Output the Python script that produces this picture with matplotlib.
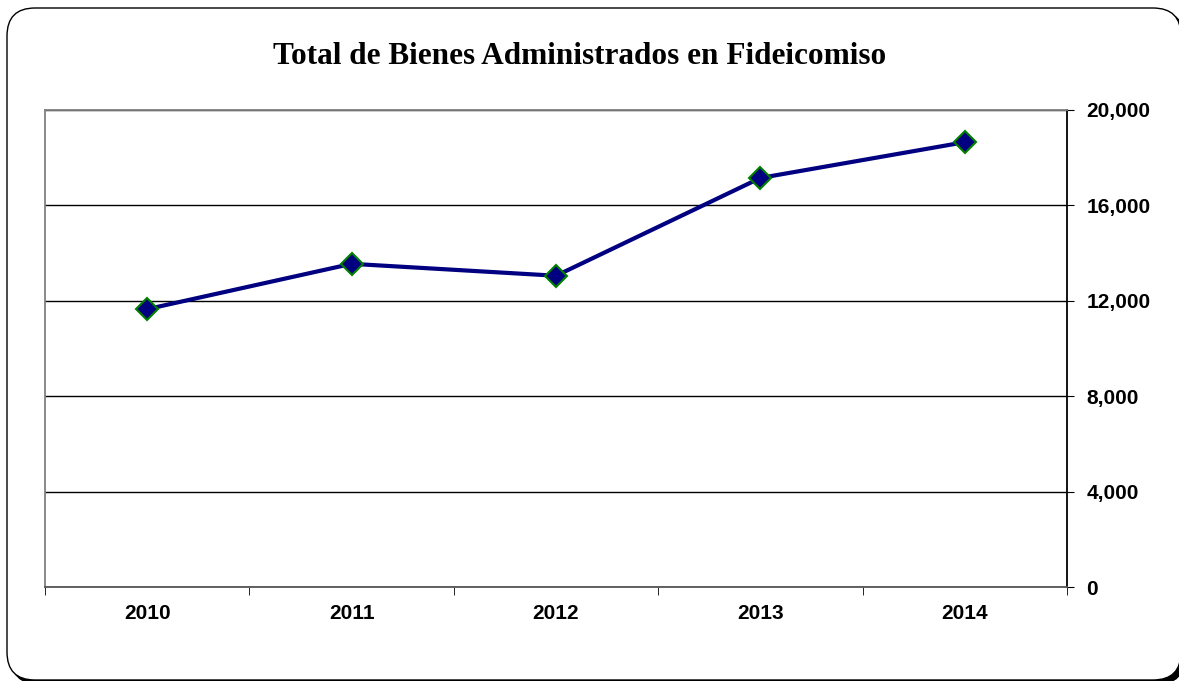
import matplotlib
matplotlib.use("Agg")
import matplotlib.pyplot as plt
from matplotlib.patches import FancyBboxPatch
from matplotlib.transforms import IdentityTransform
from matplotlib.ticker import FuncFormatter
import numpy as np

years = ["2010", "2011", "2012", "2013", "2014"]
bienes = [11650, 13550, 13050, 17150, 18650]
yticks = [0, 4000, 8000, 12000, 16000, 20000]

fig = plt.figure(figsize=(11.79, 6.81), dpi=100)

# rounded frame with shadow (pixel coords)
shadow = FancyBboxPatch((11, -3), 1174, 672, boxstyle="round,pad=0,rounding_size=28",
                        transform=IdentityTransform(), facecolor="black", edgecolor="black", zorder=0)
frame = FancyBboxPatch((7, 1), 1174, 672, boxstyle="round,pad=0,rounding_size=28",
                       transform=IdentityTransform(), facecolor="white", edgecolor="black",
                       linewidth=1.0, zorder=1)
fig.add_artist(shadow)
fig.add_artist(frame)

ax = fig.add_axes([0.0382, 0.138, 0.8668, 0.7005])
ax.set_zorder(2)
x = np.arange(len(years))
ax.plot(x, bienes, color="#000080", linewidth=3, marker="D", markersize=11,
        markerfacecolor="#000080", markeredgecolor="#008000", markeredgewidth=1.5,
        zorder=3, clip_on=False)

ax.set_xlim(-0.5, len(years) - 0.5)
ax.set_ylim(0, 20000)
ax.set_xticks(x)
ax.set_xticklabels(years, fontfamily="Liberation Sans", fontweight="bold", fontsize=15)
ax.set_xticks(np.arange(-0.5, len(years), 1), minor=True)
ax.tick_params(axis="x", which="major", length=0, pad=12)
ax.tick_params(axis="x", which="minor", length=6, direction="out", color="black")

ax.yaxis.tick_right()
ax.set_yticks(yticks)
ax.yaxis.set_major_formatter(FuncFormatter(lambda v, p: f"{int(v):,}"))
for lab in ax.get_yticklabels():
    lab.set_fontfamily("Liberation Sans")
    lab.set_fontweight("bold")
    lab.set_fontsize(15)
ax.tick_params(axis="y", which="major", length=5, direction="out", pad=9, color="black")
ax.grid(axis="y", color="black", linewidth=1)
ax.set_axisbelow(True)

ax.spines["left"].set_color("#808080")
ax.spines["top"].set_color("#808080")
ax.spines["bottom"].set_color("#555555")
ax.spines["right"].set_color("black")
for s in ax.spines.values():
    s.set_linewidth(1.3)

fig.text(0.492, 0.917, "Total de Bienes Administrados en Fideicomiso", ha="center", va="center",
         fontfamily="Liberation Serif", fontweight="bold", fontsize=22.5)

fig.savefig("out.png", dpi=100)
